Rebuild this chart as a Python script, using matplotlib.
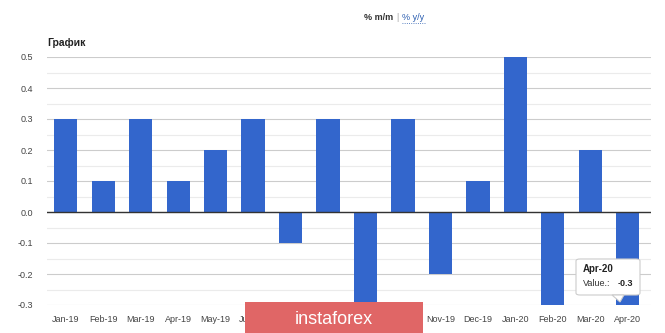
import matplotlib.pyplot as plt
from matplotlib.patches import FancyBboxPatch, Rectangle, Polygon

plt.rcParams["font.family"] = ["Liberation Sans", "DejaVu Sans"]

months = ["Jan-19", "Feb-19", "Mar-19", "Apr-19", "May-19", "Jun-19", "Jul-19", "Aug-19",
          "Sep-19", "Oct-19", "Nov-19", "Dec-19", "Jan-20", "Feb-20", "Mar-20", "Apr-20"]
values = [0.3, 0.1, 0.3, 0.1, 0.2, 0.3, -0.1, 0.3, -0.3, 0.3, -0.2, 0.1, 0.5, -0.3, 0.2, -0.3]
yticks = [-0.3, -0.2, -0.1, 0.0, 0.1, 0.2, 0.3, 0.4, 0.5]

fig = plt.figure(figsize=(6.65, 3.33), dpi=100)
ax = fig.add_axes([47 / 665, 1 - 305 / 333, 604 / 665, 248 / 333])

x = list(range(len(months)))
ax.bar(x, values, width=0.62, color="#3366cc", zorder=3)

ax.set_ylim(-0.3, 0.5)
ax.set_xlim(-0.5, 15.62)
ax.set_yticks(yticks)
ax.set_yticklabels(["%.1f" % v for v in yticks])
ax.set_yticks([v + 0.05 for v in yticks[:-1]], minor=True)
ax.set_xticks(x)
ax.set_xticklabels(months)
ax.tick_params(axis="both", length=0, labelsize=6.5, labelcolor="#444444")
ax.tick_params(axis="y", which="minor", length=0)
ax.tick_params(axis="x", pad=7)
ax.tick_params(axis="y", pad=10)
ax.grid(axis="y", which="major", color="#cccccc", linewidth=0.8, zorder=0)
ax.grid(axis="y", which="minor", color="#ebebeb", linewidth=0.8, zorder=0)
ax.axhline(0, color="#333333", linewidth=1, zorder=4)
for s in ax.spines.values():
    s.set_visible(False)

# header
fig.text(393 / 665, 1 - 17 / 333, "% m/m", fontsize=6.5, fontweight="bold",
         color="#333333", ha="right", va="center")
fig.text(397 / 665, 1 - 17 / 333, "|", fontsize=6.5, color="#aaaaaa", ha="center", va="center")
fig.text(402 / 665, 1 - 17 / 333, "% y/y", fontsize=6.5, color="#2a5db0",
         ha="left", va="center")
fig.add_artist(plt.Line2D([402 / 665, 426 / 665], [1 - 23 / 333] * 2, color="#2a5db0",
                          linewidth=0.6, linestyle=":"))
fig.text(47 / 665, 1 - 43 / 333, "График", fontsize=7.5, fontweight="bold",
         color="#222222", ha="left", va="center")

# tooltip
tip = FancyBboxPatch((576 / 665, 1 - 295 / 333), 64 / 665, 36 / 333,
                     boxstyle="round,pad=0,rounding_size=0.006",
                     transform=fig.transFigure, facecolor="white",
                     edgecolor="#cccccc", linewidth=0.8, zorder=10)
fig.add_artist(tip)
fig.add_artist(Polygon([[612 / 665, 1 - 295 / 333], [624 / 665, 1 - 295 / 333],
                        [620 / 665, 1 - 302 / 333]], closed=True,
                       transform=fig.transFigure, facecolor="white",
                       edgecolor="#cccccc", linewidth=0.8, zorder=10))
fig.text(583 / 665, 1 - 269 / 333, "Apr-20", fontsize=7, fontweight="bold",
         color="#222222", ha="left", va="center", zorder=11)
fig.text(583 / 665, 1 - 284 / 333, "Value.:", fontsize=6.5, color="#333333",
         ha="left", va="center", zorder=11)
fig.text(633 / 665, 1 - 284 / 333, "-0.3", fontsize=6.5, fontweight="bold",
         color="#222222", ha="right", va="center", zorder=11)

# watermark
fig.add_artist(Rectangle((245 / 665, 0), 178 / 665, 31 / 333, transform=fig.transFigure,
                         facecolor="#e06666", edgecolor="none", zorder=12))
fig.text(334 / 665, 14 / 333, "instaforex", fontsize=13, color="white",
         ha="center", va="center", zorder=13)

fig.savefig("out.png", dpi=100)
